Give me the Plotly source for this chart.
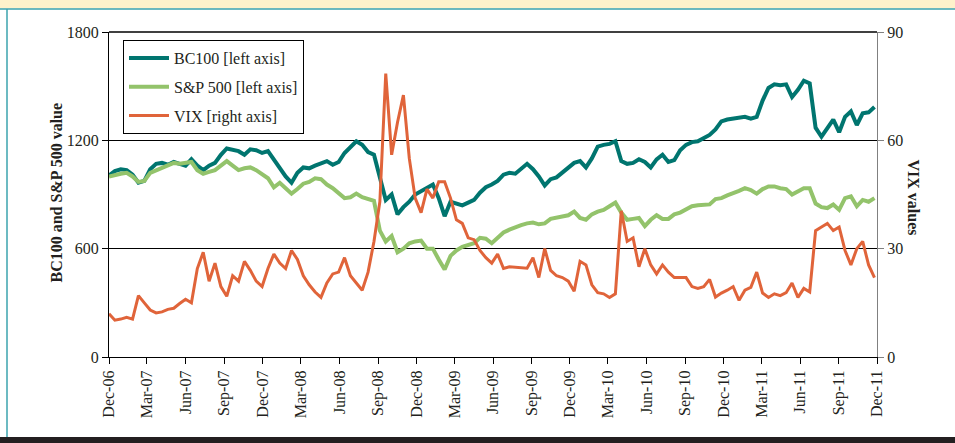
import pandas as pd
import plotly.graph_objects as go

# ---- data (biweekly observations, Dec-2006 .. Dec-2011) ----
dates = pd.date_range("2006-12-01", periods=131, freq="14D")

bc100 = [1005, 1030, 1040, 1035, 1010, 965, 975, 1040, 1070, 1075,
         1065, 1080, 1070, 1060, 1095, 1060, 1035, 1060, 1075, 1120,
         1155, 1150, 1140, 1120, 1150, 1145, 1130, 1140, 1090, 1050,
         1000, 965, 1020, 1050, 1045, 1060, 1070, 1085, 1065, 1080,
         1130, 1165, 1195, 1175, 1135, 1120, 1000, 870, 900, 790,
         830, 860, 900, 920, 940, 955, 880, 780, 860, 850,
         840, 855, 870, 910, 940, 955, 975, 1010, 1020, 1015,
         1040, 1070, 1040, 1000, 950, 985, 995, 1020, 1045, 1075,
         1085, 1050, 1100, 1165, 1175, 1180, 1195, 1085, 1070, 1075,
         1095, 1080, 1050, 1095, 1120, 1080, 1090, 1145, 1175, 1190,
         1195, 1210, 1230, 1260, 1305, 1315, 1320, 1320, 1330, 1320,
         1330, 1420, 1490, 1510, 1505, 1510, 1440, 1480, 1530, 1515,
         1270, 1220, 1265, 1315, 1245, 1330, 1360, 1285, 1350, 1355,
         1385]

sp500 = [1000, 1010, 1015, 1020, 1000, 970, 975, 1020, 1035, 1045,
         1065, 1075, 1070, 1075, 1080, 1035, 1015, 1025, 1035, 1060,
         1085, 1060, 1035, 1045, 1050, 1035, 1010, 990, 940, 965,
         935, 905, 930, 960, 970, 990, 985, 955, 935, 910,
         880, 885, 905, 885, 875, 865, 700, 640, 670, 580,
         600, 630, 640, 645, 600, 600, 540, 485, 560, 590,
         610, 620, 630, 660, 655, 630, 660, 690, 705, 720,
         730, 740, 745, 735, 740, 765, 770, 775, 785, 805,
         770, 760, 790, 805, 815, 835, 855, 800, 760, 765,
         770, 725, 760, 785, 765, 765, 790, 800, 820, 835,
         840, 840, 845, 875, 880, 895, 905, 920, 935, 925,
         905, 930, 945, 945, 935, 930, 900, 915, 935, 935,
         850, 830, 825, 845, 815, 880, 890, 835, 870, 860,
         880]

vix = [12.0, 10.2, 10.5, 11.0, 10.5, 17.0, 15.0, 13.0, 12.2, 12.5,
       13.2, 13.5, 14.8, 16.0, 15.0, 24.5, 29.0, 21.0, 26.0, 19.5,
       16.8, 22.5, 21.0, 26.5, 24.0, 21.0, 19.5, 24.5, 28.5, 26.0,
       24.5, 29.5, 27.0, 22.5, 20.0, 18.0, 16.5, 20.5, 23.0, 23.5,
       27.5, 22.5, 20.5, 18.5, 23.5, 32.0, 43.0, 78.5, 56.0, 65.0,
       72.5, 55.0, 44.0, 40.0, 46.5, 44.0, 48.5, 48.5, 44.0, 38.0,
       37.0, 33.0, 32.5, 29.5, 27.5, 26.0, 28.5, 24.5, 25.0, 24.8,
       24.8, 24.6, 27.5, 22.0, 30.0, 24.0, 22.5, 22.0, 21.0, 18.2,
       26.5, 25.5, 20.0, 17.8, 17.5, 16.5, 17.5, 40.5, 32.0, 33.0,
       25.0, 30.0, 25.5, 23.0, 25.5, 23.5, 22.0, 22.0, 22.0, 19.5,
       19.0, 19.5, 21.5, 16.6, 17.7, 18.5, 19.5, 15.7, 18.5, 19.3,
       23.5, 17.7, 16.5, 17.5, 17.0, 17.8, 20.5, 16.5, 19.0, 18.0,
       35.0, 36.0, 37.0, 35.0, 36.0, 29.5, 25.5, 30.0, 32.0, 25.5,
       22.0]

tick_dates = ["2006-12-01", "2007-03-01", "2007-06-01", "2007-09-01", "2007-12-01",
              "2008-03-01", "2008-06-01", "2008-09-01", "2008-12-01", "2009-03-01",
              "2009-06-01", "2009-09-01", "2009-12-01", "2010-03-01", "2010-06-01",
              "2010-09-01", "2010-12-01", "2011-03-01", "2011-06-01", "2011-09-01",
              "2011-12-01"]
tick_labels = ["Dec-06", "Mar-07", "Jun-07", "Sep-07", "Dec-07", "Mar-08", "Jun-08",
               "Sep-08", "Dec-08", "Mar-09", "Jun-09", "Sep-09", "Dec-09", "Mar-10",
               "Jun-10", "Sep-10", "Dec-10", "Mar-11", "Jun-11", "Sep-11", "Dec-11"]

left_ticks = [0, 600, 1200, 1800]
right_ticks = [0, 30, 60, 90]

TEAL = "#00756F"
GREEN = "#93C36B"
ORANGE = "#E0643A"
SERIF = "Liberation Serif, DejaVu Serif, serif"

fig = go.Figure()
fig.add_trace(go.Scatter(x=dates, y=bc100, mode="lines", name="BC100 [left axis]",
                         legendgroup="a", line=dict(color=TEAL, width=4)))
fig.add_trace(go.Scatter(x=dates, y=sp500, mode="lines", name="S&P 500 [left axis]",
                         legendgroup="b", line=dict(color=GREEN, width=4)))
fig.add_trace(go.Scatter(x=dates, y=vix, mode="lines", name="VIX [right axis]",
                         legendgroup="c", line=dict(color=ORANGE, width=3), yaxis="y2"))

W, H = 955, 443
L, R, T, B = 109, 78, 32, 86
pw, ph = W - L - R, H - T - B


def px(x):
    return (x - L) / pw


def py(y):
    return (H - B - y) / ph


shapes = [
    dict(type="rect", xref="paper", yref="paper", x0=px(0), x1=px(W), y0=py(8.5), y1=py(0),
         fillcolor="#FEF2CB", line=dict(width=0), layer="below"),
    dict(type="line", xref="paper", yref="paper", x0=px(0), x1=px(W), y0=py(9), y1=py(9),
         line=dict(color="#3BA3AE", width=1.5)),
    dict(type="line", xref="paper", yref="paper", x0=px(7), x1=px(7), y0=py(9), y1=py(437),
         line=dict(color="#3BA3AE", width=1.5)),
    dict(type="rect", xref="paper", yref="paper", x0=px(0), x1=px(W), y0=py(443), y1=py(437),
         fillcolor="#231F20", line=dict(width=0)),
    dict(type="line", xref="paper", yref="paper", x0=0, x1=1, y0=1, y1=1,
         line=dict(color="black", width=1.3)),
]

fig.update_layout(
    width=W, height=H,
    margin=dict(l=L, r=R, t=T, b=B),
    paper_bgcolor="white", plot_bgcolor="white",
    font=dict(family=SERIF, color="#231F20", size=16),
    showlegend=True,
    legend=dict(x=px(123), y=py(40), xanchor="left", yanchor="top",
                bordercolor="black", borderwidth=1, bgcolor="white",
                font=dict(family=SERIF, size=16, color="#231F20"),
                itemwidth=40, tracegroupgap=5),
    xaxis=dict(range=["2006-12-01", "2011-12-01"], tickvals=tick_dates, ticktext=tick_labels,
               tickangle=-90, ticks="outside", ticklen=6, tickcolor="black",
               showline=True, linecolor="black", linewidth=1.3, showgrid=False,
               tickfont=dict(family=SERIF, size=16), zeroline=False),
    yaxis=dict(range=[0, 1800], tickvals=left_ticks, ticks="outside", ticklen=6,
               tickcolor="black", showline=True, linecolor="black", linewidth=1.3,
               showgrid=True, gridcolor="black", gridwidth=1, zeroline=False,
               tickfont=dict(family=SERIF, size=16)),
    yaxis2=dict(range=[0, 90], tickvals=right_ticks, overlaying="y", side="right",
                ticks="outside", ticklen=6, tickcolor="#808080", showline=True,
                linecolor="#808080", linewidth=1.3, showgrid=False, zeroline=False,
                tickfont=dict(family=SERIF, size=16)),
    shapes=shapes,
    annotations=[
        dict(text="<b>BC100 and S&amp;P 500 value</b>", xref="paper", yref="paper",
             x=px(45), y=py(193), textangle=-90, showarrow=False,
             font=dict(family=SERIF, size=16)),
        dict(text="<b>VIX values</b>", xref="paper", yref="paper",
             x=px(924), y=py(197), textangle=90, showarrow=False,
             font=dict(family=SERIF, size=16)),
    ],
)

fig.write_html("out.html", config={"displayModeBar": False},
               post_script="document.body.style.margin='0px';")
